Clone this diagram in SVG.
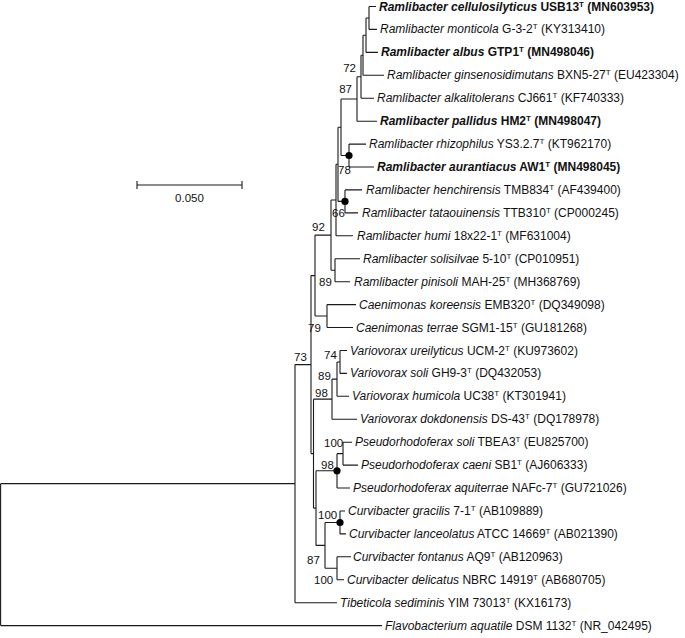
<svg xmlns="http://www.w3.org/2000/svg" width="685" height="638" viewBox="0 0 685 638">
<style>
.br{fill:none;stroke:#1a1a1a;stroke-width:1.1}
.lf{font-family:"Liberation Sans",Arial,sans-serif;font-size:12px;fill:#111}
.b{font-weight:bold}
.bs{font-family:"Liberation Sans",Arial,sans-serif;font-size:11.5px;fill:#111}
.sup{font-size:8px}
.dot{fill:#000}
</style>
<rect width="685" height="638" fill="#fff"/>
<g id="connectors" class="br">
<path d="M369,6.5V29.4M369,6.5H376M369,29.4H377"/>
<path d="M366,17.95V52.4M366,17.95H369M366,52.4H378"/>
<path d="M363,35.2V75.3M363,35.2H366M363,75.3H384"/>
<path d="M361,55.25V98.2M361,55.25H363M361,98.2H374"/>
<path d="M357,76.7V121.2M357,76.7H361M357,121.2H377"/>
<path d="M349,144.1V167M349,144.1H366M349,167H374"/>
<path d="M341,98.95V155.55M341,98.95H357M341,155.55H349"/>
<path d="M345,189.9V212.9M345,189.9H362M345,212.9H358"/>
<path d="M338,127.25V201.4M338,127.25H341M338,201.4H345"/>
<path d="M336,164.3V235.8M336,164.3H338M336,235.8H353"/>
<path d="M335,258.7V281.7M335,258.7H360M335,281.7H350"/>
<path d="M331,200.05V270.2M331,200.05H336M331,270.2H335"/>
<path d="M327,304.6V327.5M327,304.6H356M327,327.5H353"/>
<path d="M315,235.1V316.05M315,235.1H331M315,316.05H327"/>
<path d="M340,350.5V373.4M340,350.5H347M340,373.4H347"/>
<path d="M337,361.95V396.3M337,361.95H340M337,396.3H349"/>
<path d="M332,379.1V419.2M332,379.1H337M332,419.2H357"/>
<path d="M343,442.2V465.1M343,442.2H352M343,465.1H358"/>
<path d="M337,453.65V488M337,453.65H343M337,488H350"/>
<path d="M340,511V533.9M340,511H345M340,533.9H346"/>
<path d="M337,556.8V579.8M337,556.8H351M337,579.8H344"/>
<path d="M325,522.45V568.3M325,522.45H340M325,568.3H337"/>
<path d="M316,470.8V545.4M316,470.8H337M316,545.4H325"/>
<path d="M313.5,399.15V508.1M313.5,399.15H332M313.5,508.1H316"/>
<path d="M311,275.6V453.6M311,275.6H315M311,453.6H313.5"/>
<path d="M295,364.6V602.7M295,364.6H311M295,602.7H337"/>
<path d="M0.6,483.65V625.6M0.6,483.65H295M0.6,625.6H382"/>
</g>
<g id="node-dots">
<circle class="dot" cx="349" cy="155.5" r="3.6"/>
<circle class="dot" cx="345" cy="201.4" r="3.6"/>
<circle class="dot" cx="337" cy="470.8" r="3.6"/>
<circle class="dot" cx="340" cy="522.5" r="3.6"/>
</g>
<g id="bootstrap" class="bs">
<text x="356" y="72" text-anchor="end">72</text>
<text x="352" y="93" text-anchor="end">87</text>
<text x="338" y="174">78</text>
<text x="332" y="217">66</text>
<text x="312" y="231">92</text>
<text x="319" y="286">89</text>
<text x="308" y="332">79</text>
<text x="294" y="361">73</text>
<text x="324" y="359">74</text>
<text x="318" y="380">89</text>
<text x="315" y="397">98</text>
<text x="324" y="447">100</text>
<text x="321" y="469">98</text>
<text x="318" y="519">100</text>
<text x="307" y="564">87</text>
<text x="314" y="584">100</text>
</g>
<g id="scale-bar">
<path class="br" d="M137,185H242M137,181V189M242,181V189"/>
<text class="bs" x="189.5" y="202" text-anchor="middle">0.050</text>
</g>
<g id="leaf-1"><text class="lf b" x="379" y="10.5"><tspan font-style="italic">Ramlibacter cellulosilyticus</tspan> USB13<tspan class="sup" dy="-4">T</tspan><tspan dy="4"> (MN603953)</tspan></text></g>
<g id="leaf-2"><text class="lf" x="380" y="33.4"><tspan font-style="italic">Ramlibacter monticola</tspan> G-3-2<tspan class="sup" dy="-4">T</tspan><tspan dy="4"> (KY313410)</tspan></text></g>
<g id="leaf-3"><text class="lf b" x="381" y="56.4"><tspan font-style="italic">Ramlibacter albus</tspan> GTP1<tspan class="sup" dy="-4">T</tspan><tspan dy="4"> (MN498046)</tspan></text></g>
<g id="leaf-4"><text class="lf" x="387" y="79.3"><tspan font-style="italic">Ramlibacter ginsenosidimutans</tspan> BXN5-27<tspan class="sup" dy="-4">T</tspan><tspan dy="4"> (EU423304)</tspan></text></g>
<g id="leaf-5"><text class="lf" x="377" y="102.2"><tspan font-style="italic">Ramlibacter alkalitolerans</tspan> CJ661<tspan class="sup" dy="-4">T</tspan><tspan dy="4"> (KF740333)</tspan></text></g>
<g id="leaf-6"><text class="lf b" x="380" y="125.2"><tspan font-style="italic">Ramlibacter pallidus</tspan> HM2<tspan class="sup" dy="-4">T</tspan><tspan dy="4"> (MN498047)</tspan></text></g>
<g id="leaf-7"><text class="lf" x="369" y="148.1"><tspan font-style="italic">Ramlibacter rhizophilus</tspan> YS3.2.7<tspan class="sup" dy="-4">T</tspan><tspan dy="4"> (KT962170)</tspan></text></g>
<g id="leaf-8"><text class="lf b" x="377" y="171"><tspan font-style="italic">Ramlibacter aurantiacus</tspan> AW1<tspan class="sup" dy="-4">T</tspan><tspan dy="4"> (MN498045)</tspan></text></g>
<g id="leaf-9"><text class="lf" x="366" y="193.9"><tspan font-style="italic">Ramlibacter henchirensis</tspan> TMB834<tspan class="sup" dy="-4">T</tspan><tspan dy="4"> (AF439400)</tspan></text></g>
<g id="leaf-10"><text class="lf" x="362" y="216.9"><tspan font-style="italic">Ramlibacter tataouinensis</tspan> TTB310<tspan class="sup" dy="-4">T</tspan><tspan dy="4"> (CP000245)</tspan></text></g>
<g id="leaf-11"><text class="lf" x="357" y="239.8"><tspan font-style="italic">Ramlibacter humi</tspan> 18x22-1<tspan class="sup" dy="-4">T</tspan><tspan dy="4"> (MF631004)</tspan></text></g>
<g id="leaf-12"><text class="lf" x="363" y="262.7"><tspan font-style="italic">Ramlibacter solisilvae</tspan> 5-10<tspan class="sup" dy="-4">T</tspan><tspan dy="4"> (CP010951)</tspan></text></g>
<g id="leaf-13"><text class="lf" x="354" y="285.7"><tspan font-style="italic">Ramlibacter pinisoli</tspan> MAH-25<tspan class="sup" dy="-4">T</tspan><tspan dy="4"> (MH368769)</tspan></text></g>
<g id="leaf-14"><text class="lf" x="359" y="308.6"><tspan font-style="italic">Caenimonas koreensis</tspan> EMB320<tspan class="sup" dy="-4">T</tspan><tspan dy="4"> (DQ349098)</tspan></text></g>
<g id="leaf-15"><text class="lf" x="356" y="331.5"><tspan font-style="italic">Caenimonas terrae</tspan> SGM1-15<tspan class="sup" dy="-4">T</tspan><tspan dy="4"> (GU181268)</tspan></text></g>
<g id="leaf-16"><text class="lf" x="350" y="354.5"><tspan font-style="italic">Variovorax ureilyticus</tspan> UCM-2<tspan class="sup" dy="-4">T</tspan><tspan dy="4"> (KU973602)</tspan></text></g>
<g id="leaf-17"><text class="lf" x="350" y="377.4"><tspan font-style="italic">Variovorax soli</tspan> GH9-3<tspan class="sup" dy="-4">T</tspan><tspan dy="4"> (DQ432053)</tspan></text></g>
<g id="leaf-18"><text class="lf" x="352" y="400.3"><tspan font-style="italic">Variovorax humicola</tspan> UC38<tspan class="sup" dy="-4">T</tspan><tspan dy="4"> (KT301941)</tspan></text></g>
<g id="leaf-19"><text class="lf" x="360" y="423.2"><tspan font-style="italic">Variovorax dokdonensis</tspan> DS-43<tspan class="sup" dy="-4">T</tspan><tspan dy="4"> (DQ178978)</tspan></text></g>
<g id="leaf-20"><text class="lf" x="355" y="446.2"><tspan font-style="italic">Pseudorhodoferax soli</tspan> TBEA3<tspan class="sup" dy="-4">T</tspan><tspan dy="4"> (EU825700)</tspan></text></g>
<g id="leaf-21"><text class="lf" x="361" y="469.1"><tspan font-style="italic">Pseudorhodoferax caeni</tspan> SB1<tspan class="sup" dy="-4">T</tspan><tspan dy="4"> (AJ606333)</tspan></text></g>
<g id="leaf-22"><text class="lf" x="353" y="492"><tspan font-style="italic">Pseudorhodoferax aquiterrae</tspan> NAFc-7<tspan class="sup" dy="-4">T</tspan><tspan dy="4"> (GU721026)</tspan></text></g>
<g id="leaf-23"><text class="lf" x="348" y="515"><tspan font-style="italic">Curvibacter gracilis</tspan> 7-1<tspan class="sup" dy="-4">T</tspan><tspan dy="4"> (AB109889)</tspan></text></g>
<g id="leaf-24"><text class="lf" x="349" y="537.9"><tspan font-style="italic">Curvibacter lanceolatus</tspan> ATCC 14669<tspan class="sup" dy="-4">T</tspan><tspan dy="4"> (AB021390)</tspan></text></g>
<g id="leaf-25"><text class="lf" x="353" y="560.8"><tspan font-style="italic">Curvibacter fontanus</tspan> AQ9<tspan class="sup" dy="-4">T</tspan><tspan dy="4"> (AB120963)</tspan></text></g>
<g id="leaf-26"><text class="lf" x="347" y="583.8"><tspan font-style="italic">Curvibacter delicatus</tspan> NBRC 14919<tspan class="sup" dy="-4">T</tspan><tspan dy="4"> (AB680705)</tspan></text></g>
<g id="leaf-27"><text class="lf" x="340" y="606.7"><tspan font-style="italic">Tibeticola sediminis</tspan> YIM 73013<tspan class="sup" dy="-4">T</tspan><tspan dy="4"> (KX16173)</tspan></text></g>
<g id="leaf-28"><text class="lf" x="385" y="629.6"><tspan font-style="italic">Flavobacterium aquatile</tspan> DSM 1132<tspan class="sup" dy="-4">T</tspan><tspan dy="4"> (NR_042495)</tspan></text></g>
</svg>
